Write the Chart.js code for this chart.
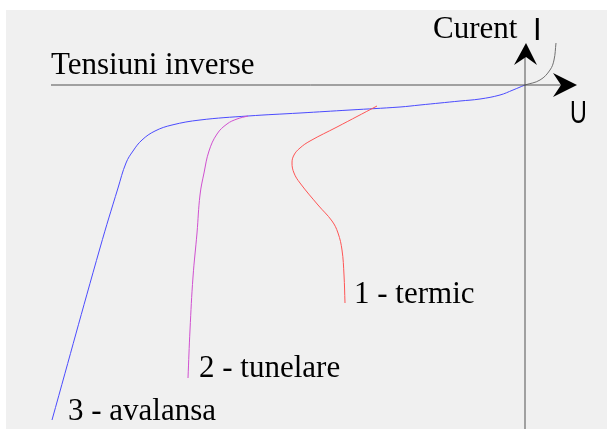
<!DOCTYPE html>
<html>
<head>
<meta charset="utf-8">
<script src="https://cdn.jsdelivr.net/npm/chart.js@4"></script>
<style>
html,body{margin:0;padding:0;background:#fff;}
canvas{display:block;}
</style>
</head>
<body>
<canvas id="c" width="607" height="429"></canvas>
<script>
// Coordinates: U (voltage, left negative = reverse), I (current, down negative = reverse)
const avalancheU = [0,-12,-25,-45,-65,-105,-125,-175,-225,-277,-325,-353,-370,-383,-392,-399,-407,-425,-473];
const avalancheI = [0,-5,-10,-14,-16,-20,-22,-25,-28,-31,-35,-40,-46,-55,-66,-78,-103,-163,-335];

const tunnelU = [-277,-288,-298,-308,-316,-321,-325,-328,-332,-335,-337];
const tunnelI = [-31,-34,-39,-49,-66,-88,-110,-148,-192,-245,-293];

const thermalU = [-148,-188,-215,-225,-231,-233,-231,-225,-207,-193,-187,-183,-181,-180];
const thermalI = [-21,-42,-56,-63,-70,-78,-88,-98,-120,-136,-148,-165,-190,-218];

const forwardU = [0,15,25,29,31];
const forwardI = [0,5,15,25,42];

const axisU = [-474, 45];
const axisI = [-344, 30];

const labels = [
  {text:'Tensiuni inverse', u:-474, i:11, font:'31px "Liberation Serif"', sx:1},
  {text:'Curent', u:-92, i:47, font:'31px "Liberation Serif"', sx:1},
  {text:'I', u:8, i:45, font:'31px "Liberation Sans"', sx:1},
  {text:'U', u:45, i:-38, font:'31px "Liberation Sans"', sx:0.75},
  {text:'1 - termic', u:-171, i:-218, font:'31px "Liberation Serif"', sx:1},
  {text:'2 - tunelare', u:-326, i:-292, font:'31px "Liberation Serif"', sx:1},
  {text:'3 - avalansa', u:-457, i:-335, font:'31px "Liberation Serif"', sx:1}
];

function pts(us, is){ return us.map((u,k)=>({x:u,y:is[k]})); }

const bgPlugin = {
  id:'bg',
  beforeDraw(chart){
    const ctx = chart.ctx;
    ctx.save();
    ctx.fillStyle = '#ffffff';
    ctx.fillRect(0,0,chart.width,chart.height);
    ctx.fillStyle = '#f0f0f0';
    ctx.fillRect(6,10,chart.width-6,chart.height-10);
    ctx.restore();
  }
};

const decoPlugin = {
  id:'deco',
  afterDatasetsDraw(chart){
    const ctx = chart.ctx, xs = chart.scales.x, ys = chart.scales.y;
    const X = v=>xs.getPixelForValue(v), Y = v=>ys.getPixelForValue(v);
    ctx.save();
    ctx.fillStyle = '#000';
    // horizontal arrow head
    ctx.beginPath();
    ctx.moveTo(X(52), Y(0));
    ctx.lineTo(X(28), Y(12));
    ctx.lineTo(X(36), Y(0));
    ctx.lineTo(X(28), Y(-12));
    ctx.closePath();
    ctx.fill();
    // vertical arrow head
    ctx.beginPath();
    ctx.moveTo(X(1), Y(42));
    ctx.lineTo(X(-11), Y(20));
    ctx.lineTo(X(1), Y(28));
    ctx.lineTo(X(12), Y(20));
    ctx.closePath();
    ctx.fill();
    ctx.textBaseline = 'alphabetic';
    ctx.textAlign = 'left';
    labels.forEach(l=>{
      ctx.save();
      ctx.font = l.font;
      ctx.translate(X(l.u), Y(l.i));
      ctx.scale(l.sx, 1);
      ctx.fillText(l.text, 0, 0);
      ctx.restore();
    });
    ctx.restore();
  }
};

new Chart(document.getElementById('c'), {
  type:'scatter',
  data:{
    datasets:[
      {data:[{x:axisU[0],y:0},{x:axisU[1],y:0}], borderColor:'#505050', borderWidth:1, showLine:true, pointRadius:0, tension:0},
      {data:[{x:0,y:axisI[0]},{x:0,y:axisI[1]}], borderColor:'#505050', borderWidth:1, showLine:true, pointRadius:0, tension:0},
      {data:pts(forwardU, forwardI), borderColor:'#707070', borderWidth:1, showLine:true, pointRadius:0, tension:0.4},
      {data:pts(thermalU, thermalI), borderColor:'#ff5555', borderWidth:1, showLine:true, pointRadius:0, tension:0.4},
      {data:pts(tunnelU, tunnelI), borderColor:'#d050d0', borderWidth:1, showLine:true, pointRadius:0, tension:0.4},
      {data:pts(avalancheU, avalancheI), borderColor:'#4b4bff', borderWidth:1, showLine:true, pointRadius:0, tension:0.4}
    ]
  },
  options:{
    responsive:false,
    animation:false,
    layout:{padding:0},
    plugins:{legend:{display:false}, tooltip:{enabled:false}},
    scales:{
      x:{type:'linear', min:-525, max:82, display:false},
      y:{type:'linear', min:-344, max:85, display:false}
    }
  },
  plugins:[bgPlugin, decoPlugin]
});
</script>
</body>
</html>
